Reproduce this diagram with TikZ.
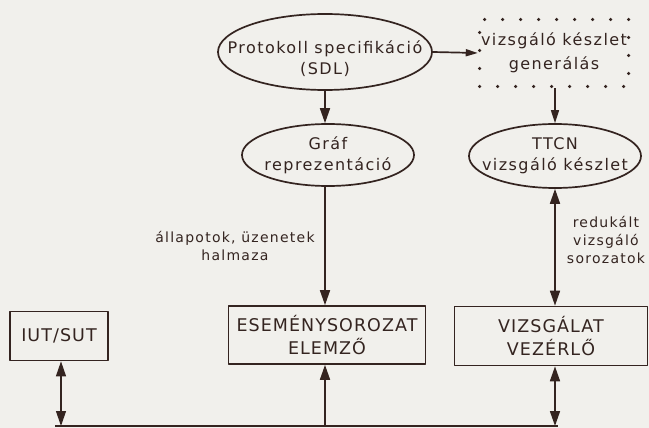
\documentclass[tikz,border=0pt]{standalone}
\usepackage{fontspec}
\setmainfont{DejaVu Sans}[LetterSpace=6]
\newfontfamily\widefont{DejaVu Sans}[LetterSpace=9]
\usetikzlibrary{shapes.geometric,arrows.meta}
\definecolor{ink}{RGB}{52,36,32}
\definecolor{paper}{RGB}{241,240,236}
\begin{document}
\begin{tikzpicture}[x=1pt,y=-1pt, >={Triangle[length=15pt,width=10pt]}, line join=round,
		every node/.style={text=ink},
		lbl/.style={align=center, text=ink, inner sep=0pt, font=\widefont\fontsize{16}{21}\selectfont},
		oval/.style={draw=ink, line width=1.7pt, ellipse, inner sep=0pt},
		box/.style={draw=ink, line width=1.7pt, rectangle, align=center, inner sep=0pt, font=\fontsize{17.5}{23}\selectfont},
		dotbox/.style={draw=ink, line width=3.5pt, line cap=round, dash pattern=on 0pt off 18pt, align=center, inner sep=0pt, font=\widefont\fontsize{16}{24}\selectfont},
		note/.style={align=center, inner sep=0pt, font=\widefont\fontsize{14}{18}\selectfont},
		link/.style={draw=ink, line width=1.7pt}]
	\fill[paper] (0,0) rectangle (649,428);
	\useasboundingbox (0,0) rectangle (649,428);
	% upper row
	\node[oval, minimum width=214pt, minimum height=76pt, label={[lbl, yshift=-7pt]center:Protokoll specifikáció\\(SDL)}] (spec) at (325,52) {};
	\node[dotbox, minimum width=149pt, minimum height=67pt] (gen) at (554,53) {vizsgáló készlet\\generálás};
	\node[oval, minimum width=172pt, minimum height=62pt, label={[lbl]center:Gráf\\reprezentáció}] (graf) at (328,155) {};
	\node[oval, minimum width=172pt, minimum height=64pt, label={[lbl]center:TTCN\\vizsgáló készlet}] (ttcn) at (555,156) {};
	% lower row
	\node[box, minimum width=98pt, minimum height=49pt] (iut) at (59,336) {IUT/SUT};
	\node[box, minimum width=197pt, minimum height=58pt] (elemzo) at (327,335) {ESEMÉNYSOROZAT\\ELEMZŐ};
	\node[box, minimum width=193pt, minimum height=59pt] (vezerlo) at (551,336) {VIZSGÁLAT\\VEZÉRLŐ};
	\coordinate (busw) at (55,426);
	\coordinate (buse) at (558,426);
	% connectors
	\draw[link, -{Triangle[length=12pt,width=7pt]}] (spec.east) -- (gen.west);
	\draw[link, ->] (spec.south) -- (spec.south |- graf.north);
	\draw[link, line width=1.3pt, -{Triangle[length=13pt,width=8pt]}] (gen.south -| ttcn) -- (ttcn.north);
	\draw[link, ->] (graf.south -| spec.south) -- (spec.south |- elemzo.north);
	\draw[link, <->] (ttcn.south) -- (ttcn.south |- vezerlo.north);
	\draw[link] (busw) -- (buse);
	\draw[link, line width=1.2pt, <->] (iut.south -| 61,0) -- (busw -| 61,0);
	\draw[link, ->] (spec.south |- busw) -- (spec.south |- elemzo.south);
	\draw[link, <->] (ttcn.south |- vezerlo.south) -- (ttcn.south |- busw);
	% labels
	\node[note] (allapot) at (235,246) {állapotok, üzenetek\\halmaza};
	\node[note] (redukalt) at (606,240) {redukált\\vizsgáló\\sorozatok};
\end{tikzpicture}
\end{document}
